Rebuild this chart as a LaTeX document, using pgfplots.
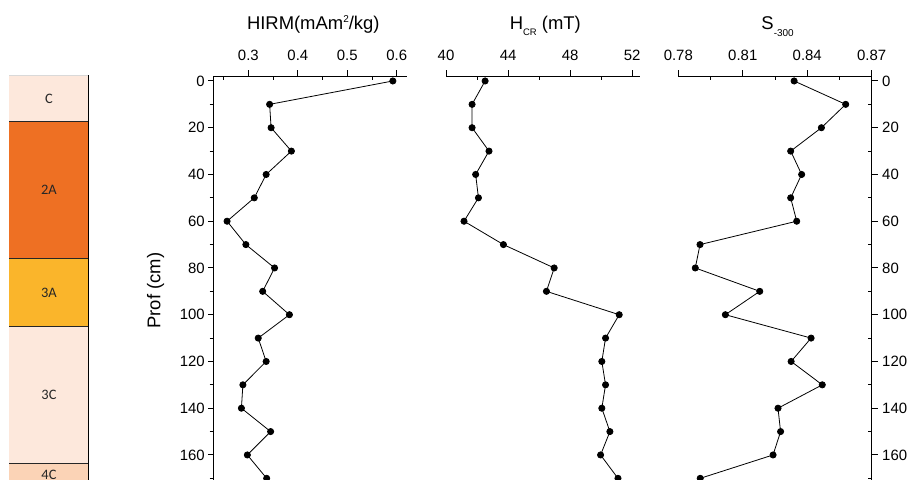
\documentclass[border=0pt]{standalone}
\usepackage{fontspec}
\setmainfont{Liberation Sans}
\newfontfamily\carlito{Carlito}
\usepackage{pgfplots}
\usepackage{pgfplotstable}
\pgfplotsset{compat=1.18}

\definecolor{peachC}{RGB}{253,232,220}
\definecolor{orangeA}{RGB}{238,112,35}
\definecolor{yellowA}{RGB}{250,181,43}
\definecolor{peachD}{RGB}{251,211,182}

\pgfplotstableread{
d hirm hcr s
0 0.592 42.52 0.8339
10 0.343 41.68 0.8579
20 0.346 41.68 0.8466
30 0.387 42.77 0.8323
40 0.336 41.91 0.8374
50 0.312 42.09 0.8323
60 0.257 41.16 0.8351
70 0.295 43.70 0.7901
80 0.353 46.97 0.7879
90 0.329 46.47 0.8179
100 0.383 51.16 0.8019
110 0.320 50.28 0.8418
120 0.336 50.04 0.8325
130 0.289 50.28 0.8470
140 0.286 50.04 0.8264
150 0.345 50.56 0.8276
160 0.298 49.96 0.8241
170 0.337 51.08 0.7902
}\data

\pgfplotsset{
  prof/.style={
    scale only axis, height=406.7bp,
    ymin=-2, ymax=172, y dir=reverse,
    axis x line*=top,
    tick align=inside, major tick length=-6bp, minor tick length=4bp,
    ytick={0,20,...,160}, minor ytick={10,30,...,170},
    tick style={black, line width=1bp},
    axis line style={black, line width=1.2bp},
    /pgf/number format/assume math mode=true,
    tick label style={font=\fontsize{15}{15}\selectfont},
    xticklabel style={anchor=base, yshift=15.6bp},
    label style={font=\fontsize{18.5}{18.5}\selectfont},
    clip marker paths=true,
  },
  dots/.style={black, line width=0.8bp, mark=*, mark size=3.1bp, mark options={solid}},
}

\begin{document}
\begin{tikzpicture}
\useasboundingbox (0bp,0bp) rectangle (911bp,480bp);
\clip (0bp,0bp) rectangle (911bp,480bp);

% stratigraphic column
\begin{axis}[at={(0bp,0bp)}, anchor=south west, scale only axis, width=911bp, height=480bp,
  xmin=0, xmax=911, ymin=0, ymax=480, y dir=reverse, hide axis, clip=false]
  \addplot[fill=peachC, draw=none] coordinates {(9,75) (88.3,75) (88.3,121) (9,121)};
  \addplot[fill=orangeA, draw=none] coordinates {(9,121) (88.3,121) (88.3,258.3) (9,258.3)};
  \addplot[fill=yellowA, draw=none] coordinates {(9,258.3) (88.3,258.3) (88.3,326) (9,326)};
  \addplot[fill=peachC, draw=none] coordinates {(9,326) (88.3,326) (88.3,463.3) (9,463.3)};
  \addplot[fill=peachD, draw=none] coordinates {(9,463.3) (88.3,463.3) (88.3,490) (9,490)};
  \addplot[black!15, line width=0.8bp] coordinates {(9,75) (88.3,75)};
  \addplot[black!85, line width=1bp] coordinates {(9,121) (88.3,121)};
  \addplot[black!85, line width=1bp] coordinates {(9,258.3) (88.3,258.3)};
  \addplot[black!85, line width=1bp] coordinates {(9,326) (88.3,326)};
  \addplot[black!85, line width=1bp] coordinates {(9,463.3) (88.3,463.3)};
  \addplot[black, line width=1.5bp] coordinates {(88.3,75) (88.3,490)};
  \node[font=\carlito\fontsize{14.5}{14.5}\selectfont, text=black!85] at (axis cs:49,99.3) {C};
  \node[font=\carlito\fontsize{14.5}{14.5}\selectfont, text=black!85] at (axis cs:49,190) {2A};
  \node[font=\carlito\fontsize{14.5}{14.5}\selectfont, text=black!85] at (axis cs:49,292.7) {3A};
  \node[font=\carlito\fontsize{14.5}{14.5}\selectfont, text=black!85] at (axis cs:49,395) {3C};
  \node[font=\carlito\fontsize{14.5}{14.5}\selectfont, text=black!85] at (axis cs:49,475) {4C};
\end{axis}

% HIRM
\begin{axis}[prof, at={(213.7bp,403.7bp)}, anchor=north west, width=193bp,
  xmin=0.23, xmax=0.62, xtick={0.3,0.4,0.5,0.6}, xticklabels={0.3,0.4,0.5,0.6},
  minor xtick={0.25,0.35,0.45,0.55},
  axis y line*=left, minor y tick style={xshift=-4bp},
  yticklabel style={xshift=-5.4bp},
  xlabel={HIRM(mAm\raisebox{6.5bp}{\fontsize{10}{10}\selectfont 2}/kg)},
  xlabel style={at={(axis cs:0.4312,-2)}, anchor=base, yshift=46.8bp},
  ylabel={Prof (cm)},
  ylabel style={at={(axis cs:0.1124,89.7)}, anchor=center, rotate=0}]
  \addplot[dots] table[x=hirm, y=d] {\data};
\end{axis}

% Hcr
\begin{axis}[prof, at={(446bp,403.7bp)}, anchor=north west, width=194bp,
  xmin=40, xmax=52.5, xtick={40,44,48,52}, minor xtick={42,46,50},
  axis y line=none,
  xlabel={H\raisebox{-6.5bp}{\fontsize{9.5}{10}\selectfont CR} (mT)},
  xlabel style={at={(axis cs:46.4,-2)}, anchor=base, yshift=46.8bp}]
  \addplot[dots] table[x=hcr, y=d] {\data};
\end{axis}

% S-300
\begin{axis}[prof, at={(678.3bp,403.7bp)}, anchor=north west, width=193.4bp,
  xmin=0.78, xmax=0.87, xtick={0.78,0.81,0.84,0.87}, xticklabels={0.78,0.81,0.84,0.87},
  minor xtick={0.795,0.825,0.855},
  axis y line*=right,
  yticklabel style={xshift=7bp},
  xlabel={S\raisebox{-7bp}{\fontsize{10}{10}\selectfont -300}},
  xlabel style={at={(axis cs:0.8262,-2)}, anchor=base, yshift=46.8bp}]
  \addplot[dots] table[x=s, y=d] {\data};
\end{axis}
\end{tikzpicture}
\end{document}
